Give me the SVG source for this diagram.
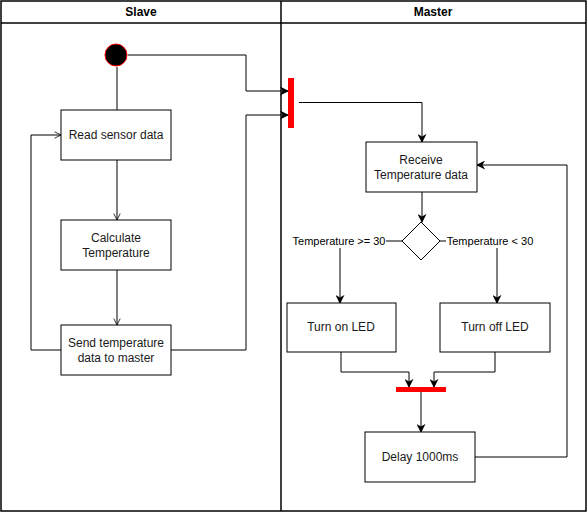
<svg xmlns="http://www.w3.org/2000/svg" width="587" height="513" viewBox="0 0 587 513">
  <style>
    .lane { fill: none; stroke: #000; stroke-width: 1.5; }
    .box { fill: #fff; stroke: #000; stroke-width: 1; }
    .txt { font-family: "Liberation Sans", Arial, sans-serif; font-size: 12px; fill: #1a1a1a; text-anchor: middle; }
    .hdr { font-family: "Liberation Sans", Arial, sans-serif; font-size: 12px; font-weight: bold; fill: #000; text-anchor: middle; }
    .lbl { font-family: "Liberation Sans", Arial, sans-serif; font-size: 11px; fill: #000; text-anchor: middle; }
    .edge { fill: none; stroke: #000; stroke-width: 1; }
    .bar { fill: #ff0000; }
  </style>
  <defs>
    <marker id="filled" viewBox="0 0 10 10" refX="9" refY="5" markerWidth="9" markerHeight="9" markerUnits="userSpaceOnUse" orient="auto">
      <path d="M0,0 L10,5 L0,10 L3,5 Z" fill="#000"/>
    </marker>
    <marker id="open" viewBox="0 0 10 10" refX="9" refY="5" markerWidth="8" markerHeight="8" markerUnits="userSpaceOnUse" orient="auto">
      <path d="M1,1 L9,5 L1,9" fill="none" stroke="#000" stroke-width="1"/>
    </marker>
  </defs>

  <rect width="587" height="513" fill="#fff"/>

  <!-- swimlanes -->
  <g id="pool">
    <rect class="lane" x="1" y="1" width="585" height="510"/>
    <line class="lane" x1="1" y1="23" x2="586" y2="23"/>
    <line class="lane" x1="281" y1="1" x2="281" y2="511"/>
    <text class="hdr" x="141" y="16">Slave</text>
    <text class="hdr" x="433" y="16">Master</text>
  </g>

  <!-- connectors -->
  <g id="connectors">
    <path class="edge" d="M128,55 H246 V91 H288" marker-end="url(#filled)"/>
    <path class="edge" d="M117,67 V110"/>
    <path class="edge" d="M117,160 V220" marker-end="url(#open)"/>
    <path class="edge" d="M117,270 V325" marker-end="url(#open)"/>
    <path class="edge" d="M61,350 H31 V135 H61" marker-end="url(#open)"/>
    <path class="edge" d="M171,350 H246 V115 H288" marker-end="url(#filled)"/>
    <path class="edge" d="M299,102.5 H422 V142" marker-end="url(#filled)"/>
    <path class="edge" d="M422,192 V222" marker-end="url(#filled)"/>
    <path class="edge" d="M403,241 H386"/>
    <path class="edge" d="M440,241 H446"/>
    <path class="edge" d="M340,248 V303" marker-end="url(#filled)"/>
    <path class="edge" d="M497,248 V303" marker-end="url(#filled)"/>
    <path class="edge" d="M341,352 V372 H409 V387" marker-end="url(#filled)"/>
    <path class="edge" d="M495,352 V372 H434 V387" marker-end="url(#filled)"/>
    <path class="edge" d="M421,392 V432" marker-end="url(#filled)"/>
    <path class="edge" d="M475,457 H567 V165 H477" marker-end="url(#filled)"/>
  </g>

  <!-- nodes -->
  <g id="start">
    <circle cx="116" cy="55" r="11" fill="#000" stroke="#ff0000" stroke-width="1"/>
  </g>
  <g id="read-sensor">
    <rect class="box" x="61" y="110" width="110" height="50"/>
    <text class="txt" x="116" y="139">Read sensor data</text>
  </g>
  <g id="calculate">
    <rect class="box" x="61" y="220" width="110" height="50"/>
    <text class="txt" x="116" y="242">Calculate</text>
    <text class="txt" x="116" y="257">Temperature</text>
  </g>
  <g id="send">
    <rect class="box" x="61" y="325" width="110" height="50"/>
    <text class="txt" x="116" y="347">Send temperature</text>
    <text class="txt" x="116" y="362">data to master</text>
  </g>
  <g id="fork-top">
    <rect class="bar" x="288" y="78" width="6" height="50"/>
  </g>
  <g id="receive">
    <rect class="box" x="366" y="142" width="111" height="50"/>
    <text class="txt" x="421" y="164">Receive</text>
    <text class="txt" x="421" y="179">Temperature data</text>
  </g>
  <g id="decision">
    <polygon points="421,222 440,241 421,260 402,241" fill="#fff" stroke="#000" stroke-width="1"/>
  </g>
  <g id="label-high">
    <text class="lbl" x="339" y="245">Temperature &gt;= 30</text>
  </g>
  <g id="label-low">
    <text class="lbl" x="490" y="245">Temperature &lt; 30</text>
  </g>
  <g id="turn-on">
    <rect class="box" x="287" y="303" width="109" height="49"/>
    <text class="txt" x="341" y="331">Turn on LED</text>
  </g>
  <g id="turn-off">
    <rect class="box" x="440" y="303" width="110" height="49"/>
    <text class="txt" x="495" y="331">Turn off LED</text>
  </g>
  <g id="join">
    <rect class="bar" x="396" y="387" width="50" height="5"/>
  </g>
  <g id="delay">
    <rect class="box" x="365" y="432" width="110" height="50"/>
    <text class="txt" x="420" y="461">Delay 1000ms</text>
  </g>
</svg>
